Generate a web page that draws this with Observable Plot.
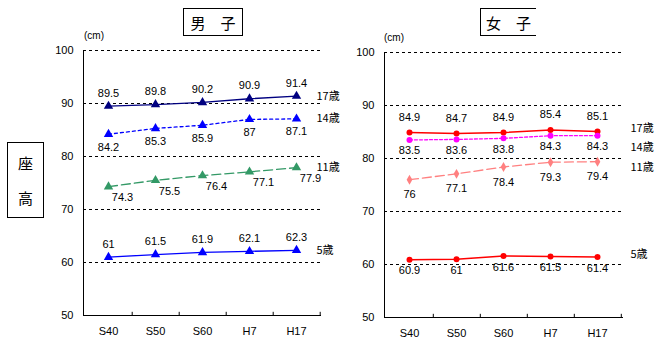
<!DOCTYPE html>
<html><head><meta charset="utf-8">
<script src="https://cdn.jsdelivr.net/npm/d3@7"></script>
<script src="https://cdn.jsdelivr.net/npm/@observablehq/plot@0.6"></script>
<style>
body{margin:0;background:#fff;}
#wrap{position:relative;width:660px;height:351px;font-family:"Noto Sans CJK JP",sans-serif;}
#wrap svg{position:absolute;top:0;}
.box{position:absolute;border:1px solid #000;background:#fff;box-sizing:border-box;display:flex;align-items:center;justify-content:center;font-size:15px;}
.unit{position:absolute;font-size:10px;font-family:"Liberation Sans Narrow","Liberation Sans",sans-serif;}
</style></head>
<body><div id="wrap">
<div class="box" style="left:183px;top:8px;width:60px;height:28px;">男　子</div>
<div class="box" style="left:480px;top:8px;width:56px;height:28px;border-right:none;">女　子</div>
<div class="box" style="left:7px;top:142px;width:37px;height:76px;flex-direction:column;gap:14px;font-size:15px;"><span>座</span><span>高</span></div>
<div class="unit" style="left:84px;top:30px;">(cm)</div>
<div class="unit" style="left:384px;top:32px;">(cm)</div>
</div>
<script>
const years = ["S40", "S50", "S60", "H7", "H17"];
const ageLabels = ["17歳", "14歳", "11歳", "5歳"];
const yTicks = [50, 60, 70, 80, 90, 100];
const gridValues = [60, 70, 80, 90, 100];

const boys17 = [89.5, 89.8, 90.2, 90.9, 91.4];
const boys14 = [84.2, 85.3, 85.9, 87, 87.1];
const boys11 = [74.3, 75.5, 76.4, 77.1, 77.9];
const boys5  = [61, 61.5, 61.9, 62.1, 62.3];

const girls17 = [84.9, 84.7, 84.9, 85.4, 85.1];
const girls14 = [83.5, 83.6, 83.8, 84.3, 84.3];
const girls11 = [76, 77.1, 78.4, 79.3, 79.4];
const girls5  = [60.9, 61, 61.6, 61.5, 61.4];

const numFont = '"Liberation Sans Narrow","Liberation Sans",sans-serif';

function panel(cfg) {
  const {series, width, marginLeft, marginRight, marginTop, marginBottom} = cfg;
  const half = (width - marginLeft - marginRight) / years.length / 2;
  const marks = [
    Plot.ruleY(gridValues, {stroke: "#000", strokeDasharray: "3,3", strokeWidth: 1}),
    Plot.ruleX(years, {x: d => d, dx: half, y1: 50, y2: 50.6, stroke: "#000"})
  ];
  for (const s of series) {
    const data = years.map((yr, i) => ({yr, v: s.values[i]}));
    marks.push(Plot.line(data, {x: "yr", y: "v", stroke: s.color, strokeWidth: s.sw || 1.3, strokeDasharray: s.dash || null}));
    marks.push(Plot.dot(data, {x: "yr", y: "v", symbol: s.symbol, fill: s.color, stroke: "none", r: s.r}));
    marks.push(Plot.text(data, {x: "yr", y: "v", text: d => String(d.v), dx: s.ldx || 0, dy: s.ldy, fill: "#000", fontFamily: numFont, fontSize: 11}));
    marks.push(Plot.text([data[data.length - 1]], {x: "yr", y: "v", text: () => s.label, dx: cfg.sdx, dy: s.sdy || 0, textAnchor: "start", fill: "#000", fontSize: 11, fontFamily: '"Noto Sans CJK JP",sans-serif'}));
  }
  return Plot.plot({
    width, height: 351, marginLeft, marginRight, marginTop, marginBottom,
    style: {background: "transparent", overflow: "visible", fontFamily: numFont, fontSize: "11px", color: "#000"},
    x: {type: "point", domain: years, padding: 0.5, tickSize: 0, tickPadding: 12, label: null, line: true},
    y: {domain: [50, 100], ticks: yTicks, tickSize: 0, tickPadding: 10, label: null, line: true},
    marks
  });
}

const left = panel({
  width: 345, marginLeft: 83, marginRight: 25, marginTop: 50, marginBottom: 36, sdx: 20,
  series: [
    {label: ageLabels[0], values: boys17, color: "#000080", symbol: "triangle", r: 3.5, ldy: -13},
    {label: ageLabels[1], values: boys14, color: "#0000FF", symbol: "triangle", r: 3.5, dash: "3,3", ldy: 13},
    {label: ageLabels[2], values: boys11, color: "#339966", symbol: "triangle", r: 3.5, dash: "9,4", ldx: 14, ldy: 11},
    {label: ageLabels[3], values: boys5, color: "#0000FF", symbol: "triangle", r: 3.5, ldy: -13}
  ]
});
left.style.left = "0px";

const right = panel({
  width: 330, marginLeft: 54, marginRight: 38, marginTop: 52, marginBottom: 34, sdx: 33,
  series: [
    {label: ageLabels[0], values: girls17, color: "#FF0000", symbol: "circle", r: 3, ldy: -15, sdy: -3, sw: 1.5},
    {label: ageLabels[1], values: girls14, color: "#FF00FF", symbol: "circle", r: 3, dash: "3,2", ldy: 11, sdy: 12},
    {label: ageLabels[2], values: girls11, color: "#FF8080", symbol: "diamond", r: 3, dash: "9,4", ldy: 15, sdy: 6},
    {label: ageLabels[3], values: girls5, color: "#FF0000", symbol: "circle", r: 3, ldy: 11, sdy: -3, sw: 1.5}
  ]
});
right.style.left = "330px";

const wrap = document.getElementById("wrap");
wrap.insertBefore(left, wrap.firstChild);
wrap.insertBefore(right, wrap.firstChild);
</script>
</body></html>
